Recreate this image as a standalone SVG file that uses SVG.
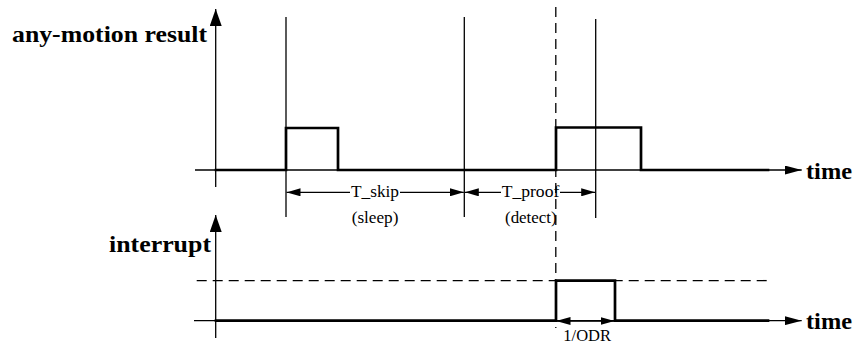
<svg xmlns="http://www.w3.org/2000/svg" width="855" height="344" viewBox="0 0 855 344">
<style>
.thin{stroke:#000;stroke-width:1.3;fill:none}
.thick{stroke:#000;stroke-width:2.7;fill:none;stroke-linejoin:miter;stroke-linecap:square}
.dash{stroke:#000;stroke-width:1.3;fill:none;stroke-dasharray:10 6}
.lbl{font-family:'Liberation Serif','Times New Roman',serif;fill:#000}
.big{font-weight:bold;font-size:23px}
.small{font-size:17px}
</style>
<defs>
<marker id="axH" markerUnits="userSpaceOnUse" markerWidth="17" markerHeight="9" refX="17" refY="4.5" orient="auto"><path d="M0,0 L17,4.5 L0,9 z" fill="#000"/></marker>
<marker id="axV" markerUnits="userSpaceOnUse" markerWidth="17" markerHeight="12" refX="17" refY="6" orient="auto"><path d="M0,0 L17,6 L0,12 z" fill="#000"/></marker>
<marker id="dim" markerUnits="userSpaceOnUse" markerWidth="14" markerHeight="8" refX="14" refY="4" orient="auto-start-reverse"><path d="M0,0 L14,4 L0,8 z" fill="#000"/></marker>
</defs>
<rect width="855" height="344" fill="#fff"/>

<g id="axes">
<line class="thin" x1="195" y1="170" x2="801.7" y2="170" marker-end="url(#axH)"/>
<line class="thin" x1="215.7" y1="187" x2="215.7" y2="9" marker-end="url(#axV)"/>
<line class="thin" x1="194" y1="320.7" x2="801.7" y2="320.7" marker-end="url(#axH)"/>
<line class="thin" x1="215.7" y1="338" x2="215.7" y2="215" marker-end="url(#axV)"/>
</g>

<g id="markers">
<line class="thin" x1="286" y1="17" x2="286" y2="217"/>
<line class="thin" x1="464.3" y1="17" x2="464.3" y2="217"/>
<line class="thin" x1="595.7" y1="19" x2="595.7" y2="218"/>
<line class="dash" x1="555.8" y1="7" x2="555.8" y2="328"/>
<line class="dash" x1="196.7" y1="280.6" x2="766.7" y2="280.6"/>
</g>

<g id="signals">
<polyline class="thick" points="216,170 286,170 286,128 338,128 338,170 556,170 556,127.5 641,127.5 641,170 768,170"/>
<polyline class="thick" points="216,320.7 556,320.7 556,280.6 615,280.6 615,320.7 768,320.7"/>
</g>

<g id="connectors">
<line class="thin" x1="286.5" y1="192.3" x2="350" y2="192.3" marker-start="url(#dim)"/>
<line class="thin" x1="400" y1="192.3" x2="463.8" y2="192.3" marker-end="url(#dim)"/>
<line class="thin" x1="464.8" y1="192.3" x2="501" y2="192.3" marker-start="url(#dim)"/>
<line class="thin" x1="560" y1="192.3" x2="595.2" y2="192.3" marker-end="url(#dim)"/>
<line class="thin" x1="556.5" y1="321" x2="614.5" y2="321" marker-start="url(#dim)" marker-end="url(#dim)"/>
</g>

<g id="label-anymotion"><text class="lbl big" x="12" y="41.7" textLength="195" lengthAdjust="spacingAndGlyphs">any-motion result</text></g>
<g id="label-interrupt"><text class="lbl big" x="109" y="251.5" textLength="102" lengthAdjust="spacingAndGlyphs">interrupt</text></g>
<g id="label-time1"><text class="lbl big" x="806" y="178.5" textLength="46" lengthAdjust="spacingAndGlyphs">time</text></g>
<g id="label-time2"><text class="lbl big" x="806" y="329.3" textLength="46" lengthAdjust="spacingAndGlyphs">time</text></g>
<g id="label-tskip">
<text class="lbl small" x="351" y="197" textLength="48" lengthAdjust="spacingAndGlyphs">T_skip</text>
<text class="lbl small" x="351.7" y="222.5" textLength="46.7" lengthAdjust="spacingAndGlyphs">(sleep)</text>
</g>
<g id="label-tproof">
<text class="lbl small" x="501.7" y="197" textLength="57.6" lengthAdjust="spacingAndGlyphs">T_proof</text>
<text class="lbl small" x="505" y="222.5" textLength="51.7" lengthAdjust="spacingAndGlyphs">(detect)</text>
</g>
<g id="label-odr"><text class="lbl small" x="563.3" y="341" textLength="47.7" lengthAdjust="spacingAndGlyphs">1/ODR</text></g>
</svg>
